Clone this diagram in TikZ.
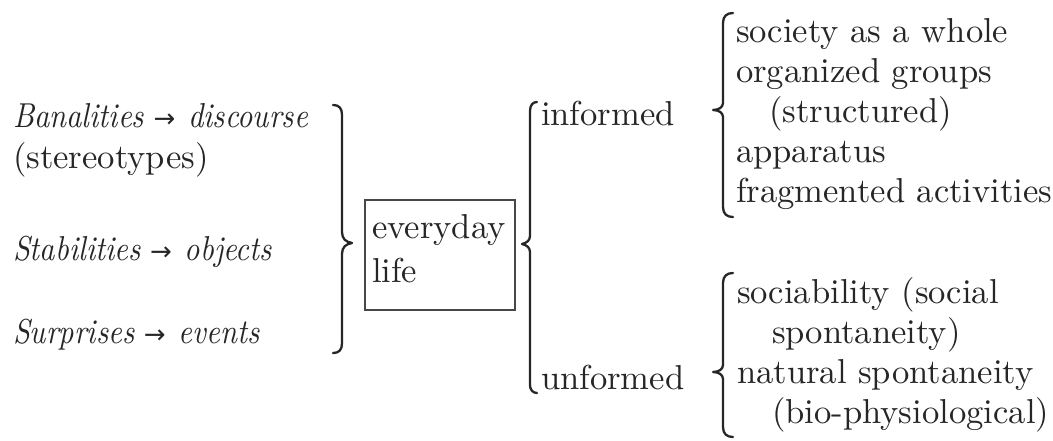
\documentclass[tikz,border=0pt]{standalone}
\usepackage{fontspec}
\usepackage{graphicx}
\setmainfont{lmroman10-regular.otf}[ItalicFont=lmroman10-italic.otf]
\newfontfamily\arrowfont{DejaVu Sans}
\definecolor{ink}{RGB}{38,38,38}
\tikzset{
  lbl/.style={anchor=base west, inner sep=0pt, outer sep=0pt, text=ink, font=\fontsize{34.6}{40}\selectfont},
  brc/.style={draw=ink, line width=2.3pt, line cap=round, line join=round},
  framebox/.style={draw=ink!85, line width=1.4pt, minimum width=150pt, minimum height=110pt, inner sep=0pt}
}
\newcommand{\ital}[1]{\scalebox{0.87}[1]{\textit{#1}}}
\newcommand{\arr}{\hspace{9pt}{\arrowfont\fontsize{26}{30}\selectfont →}\hspace{13pt}}
\begin{document}
\begin{tikzpicture}[x=1pt,y=-1pt]
\useasboundingbox (0,0) rectangle (1053,441);
% left column
\node[lbl] (ban) at (13,128) {\ital{Banalities}\arr\ital{discourse}};
\node[lbl] (ste) at (13,168) {(stereotypes)};
\node[lbl] (sta) at (13,260) {\ital{Stabilities}\arr\ital{objects}};
\node[lbl] (sur) at (13,343) {\ital{Surprises}\arr\ital{events}};
% left brace
\draw[brc] (333,105) .. controls (339,105) and (342,108) .. (342,115) -- (342,232)
  .. controls (342,239) and (346,242) .. (352,243)
  .. controls (346,244) and (342,247) .. (342,254) -- (342,343)
  .. controls (342,350) and (339,353) .. (333,353);
% box
\node[framebox] (box) at (440,255) {};
\node[lbl] (ev) at (372,238) {everyday};
\node[lbl] (li) at (372,282) {life};
% middle brace
\draw[brc] (537,102) .. controls (533,102) and (530,105) .. (530,111) -- (530,236)
  .. controls (530,240) and (527,243) .. (522,244)
  .. controls (527,245) and (530,248) .. (530,252) -- (530,385)
  .. controls (530,390) and (533,393) .. (537,393);
\node[lbl] (inf) at (541,126) {informed};
\node[lbl] (unf) at (541,389) {unformed};
% right top brace
\draw[brc] (733,13) .. controls (727,13) and (723,16) .. (723,23) -- (723,103)
  .. controls (723,107) and (719,110) .. (713,110)
  .. controls (719,110) and (723,113) .. (723,117) -- (723,207)
  .. controls (723,214) and (727,217) .. (733,217);
\node[lbl] (soc) at (736,43) {society as a whole};
\node[lbl] (org) at (736,83) {organized groups};
\node[lbl] (str) at (769,123) {(structured)};
\node[lbl] (app) at (736,163) {apparatus};
\node[lbl] (fra) at (736,203) {fragmented activities};
% right bottom brace
\draw[brc] (733,273) .. controls (727,273) and (723,276) .. (723,283) -- (723,365)
  .. controls (723,369) and (719,372) .. (713,372)
  .. controls (719,372) and (723,375) .. (723,379) -- (723,427)
  .. controls (723,434) and (727,437) .. (733,437);
\node[lbl] (sci) at (737,303) {sociability (social};
\node[lbl] (spo) at (772,343) {spontaneity)};
\node[lbl] (nat) at (737,383) {natural spontaneity};
\node[lbl] (bio) at (772,423) {(bio-physiological)};
\end{tikzpicture}
\end{document}
